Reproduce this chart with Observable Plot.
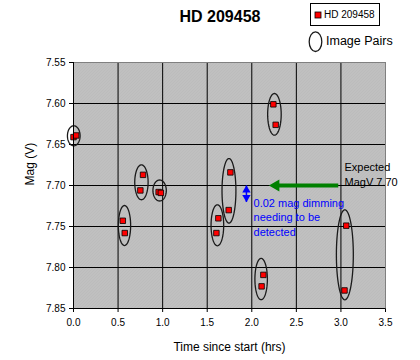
<!DOCTYPE html>
<html><head><meta charset="utf-8">
<script src="https://cdn.jsdelivr.net/npm/d3@7"></script>
<script src="https://cdn.jsdelivr.net/npm/@observablehq/plot@0.6"></script>
<style>
body{margin:0;background:#fff;font-family:"Liberation Sans",Arial,sans-serif;}
#wrap{position:relative;width:420px;height:360px;overflow:hidden;}
#wrap svg.plot{position:absolute;left:0;top:0;}
.ov{position:absolute;white-space:nowrap;color:#000;}
</style></head>
<body><div id="wrap"></div>
<script>
// ---- data ----
const chartTitle = "HD 209458";
const seriesName = "HD 209458";
const pairsName = "Image Pairs";
const xLabel = "Time since start (hrs)";
const yLabel = "Mag (V)";
const hours = [0.00, 0.03, 0.553, 0.575, 0.75, 0.78, 0.955, 0.98, 1.603, 1.625, 1.741, 1.76, 2.11, 2.13, 2.242, 2.268, 3.04, 3.06];
const mags  = [7.641, 7.639, 7.743, 7.758, 7.706, 7.687, 7.708, 7.709, 7.758, 7.740, 7.730, 7.684, 7.823, 7.809, 7.601, 7.626, 7.828, 7.749];
// image pair ellipses: centre (hrs, mag) and half-sizes (hrs, mag)
const pairX  = [0.003, 0.572, 0.762, 0.966, 1.614, 1.744, 2.254, 2.105, 3.044];
const pairY  = [7.6394, 7.7488, 7.6961, 7.7061, 7.7485, 7.7065, 7.6132, 7.8141, 7.7845];
const pairRx = [0.071, 0.069, 0.075, 0.075, 0.071, 0.078, 0.076, 0.070, 0.095];
const pairRy = [0.0122, 0.0244, 0.0213, 0.0128, 0.025, 0.0394, 0.0254, 0.0252, 0.0549];
const xTicks = [0.0, 0.5, 1.0, 1.5, 2.0, 2.5, 3.0, 3.5];
const yTicks = [7.55, 7.60, 7.65, 7.70, 7.75, 7.80, 7.85];
// annotations
const expectedMag = 7.70;
const expectedText = ["Expected\nMagV 7.70"];
const expectedTextPos = [3.04, 7.686];
const greenArrowX = [2.97, 2.27];
const dimming = [7.70, 7.72];
const dimmingX = 1.94;
const dimmingText = ["0.02 mag dimming\nneeding to be\ndetected"];
const dimmingTextPos = [2.02, 7.738];

// ---- build tables ----
const points = hours.map((h, i) => ({x: h, y: mags[i]}));
const ellipsePts = [];
pairX.forEach((cx, i) => {
  const n = 72;
  for (let k = 0; k <= n; k++) {
    const t = 2 * Math.PI * k / n;
    ellipsePts.push({id: i, x: cx + pairRx[i] * Math.cos(t), y: pairY[i] + pairRy[i] * Math.sin(t)});
  }
});

const xMin = xTicks[0], xMax = xTicks[xTicks.length - 1];
const yMin = yTicks[0], yMax = yTicks[yTicks.length - 1];

const plot = Plot.plot({
  width: 420, height: 360,
  marginLeft: 73, marginRight: 35, marginTop: 62, marginBottom: 52,
  style: {fontFamily: "'Liberation Sans', Arial, sans-serif", fontSize: "10px", background: "transparent", overflow: "visible"},
  x: {domain: [xMin, xMax], ticks: xTicks, tickFormat: d => d.toFixed(1), tickSize: 4, tickPadding: 6, label: null},
  y: {domain: [yMin, yMax], reverse: true, ticks: yTicks, tickFormat: d => d.toFixed(2), tickSize: 4, tickPadding: 4, label: null},
  marks: [
    Plot.frame({fill: "url(#dither)", stroke: "none"}),
    Plot.ruleX(xTicks.slice(0, -1), {stroke: "#000", strokeWidth: 1}),
    Plot.ruleY(yTicks.slice(1), {stroke: "#000", strokeWidth: 1}),
    Plot.ruleX([xMax], {stroke: "#808080", strokeWidth: 1}),
    Plot.ruleY([yMin], {stroke: "#808080", strokeWidth: 1}),
    // green arrow
    Plot.link([0], {x1: greenArrowX[0], x2: greenArrowX[1], y1: expectedMag, y2: expectedMag, stroke: "#008000", strokeWidth: 4}),
    Plot.dot([0], {x: greenArrowX[1], y: expectedMag, symbol: "triangle", rotate: -90, r: 4.5, fill: "#008000", stroke: "none"}),
    // blue double arrow
    Plot.link([0], {x1: dimmingX, x2: dimmingX, y1: dimming[0], y2: dimming[1], stroke: "#0000ff", strokeWidth: 1.5}),
    Plot.dot([0], {x: dimmingX, y: dimming[0], dy: 4.5, symbol: "triangle", rotate: 0, r: 3.1, fill: "#0000ff", stroke: "none"}),
    Plot.dot([0], {x: dimmingX, y: dimming[1], dy: -4.5, symbol: "triangle", rotate: 180, r: 3.1, fill: "#0000ff", stroke: "none"}),
    // ellipses
    Plot.line(ellipsePts, {x: "x", y: "y", z: "id", stroke: "#1a1a1a", strokeWidth: 1.3, curve: "linear"}),
    // data points
    Plot.dot(points, {x: "x", y: "y", symbol: "square", r: 3.1, fill: "#ff0000", stroke: "#000", strokeWidth: 0.8}),
    // annotation texts
    Plot.text(expectedText, {x: expectedTextPos[0], y: expectedTextPos[1], text: d => d, textAnchor: "start", lineAnchor: "middle", lineHeight: 1.33, fontSize: 11, fill: "#000"}),
    Plot.text(dimmingText, {x: dimmingTextPos[0], y: dimmingTextPos[1], text: d => d, textAnchor: "start", lineAnchor: "middle", lineHeight: 1.33, fontSize: 11, fill: "#0000ff"}),
    // axis labels
    Plot.text([xLabel], {frameAnchor: "bottom", dy: 39, lineAnchor: "middle", text: d => d, fontSize: 12, fill: "#000"}),
    Plot.text([yLabel], {frameAnchor: "left", dx: -43, rotate: -90, lineAnchor: "middle", text: d => d, fontSize: 12, fill: "#000"}),
    Plot.ruleX([xMin], {stroke: "#000"}),
    Plot.ruleY([yMax], {stroke: "#000"})
  ]
});

d3.select(plot).insert("defs", ":first-child").html(
  '<pattern id="dither" width="3" height="3" patternUnits="userSpaceOnUse">' +
  '<rect width="3" height="3" fill="#c5c5c5"/>' +
  '<rect x="0" y="2" width="1" height="1" fill="#b2b2b2"/>' +
  '<rect x="1" y="1" width="1" height="1" fill="#b2b2b2"/>' +
  '<rect x="2" y="0" width="1" height="1" fill="#b2b2b2"/>' +
  '</pattern>');
plot.classList.add("plot");

const wrap = document.getElementById("wrap");
wrap.appendChild(plot);

// title
const t = document.createElement("div");
t.className = "ov";
t.style.cssText = "left:0;width:440px;top:7px;text-align:center;font-size:16px;font-weight:bold;line-height:20px;";
t.textContent = chartTitle;
wrap.appendChild(t);

// legend box
const box = document.createElement("div");
box.className = "ov";
box.style.cssText = "left:310px;top:3px;width:68px;height:21px;border:1px solid #000;background:#fff;";
box.innerHTML = '<svg width="10" height="10" style="position:absolute;left:2px;top:6px"><rect x="2" y="2" width="6" height="6" fill="#ff0000" stroke="#000" stroke-width="0.8"/></svg>' +
  '<span style="position:absolute;left:13px;top:4px;font-size:10px;line-height:13px;">' + seriesName + '</span>';
wrap.appendChild(box);

const leg2 = document.createElement("div");
leg2.className = "ov";
leg2.style.cssText = "left:306px;top:30px;height:24px;";
leg2.innerHTML = '<svg width="20" height="24" style="position:absolute;left:0;top:0"><ellipse cx="9.5" cy="11.7" rx="6.3" ry="9.8" fill="none" stroke="#1a1a1a" stroke-width="1.3"/></svg>' +
  '<span style="position:absolute;left:20px;top:4px;font-size:12.5px;line-height:15px;">' + pairsName + '</span>';
wrap.appendChild(leg2);
</script>
</body></html>
